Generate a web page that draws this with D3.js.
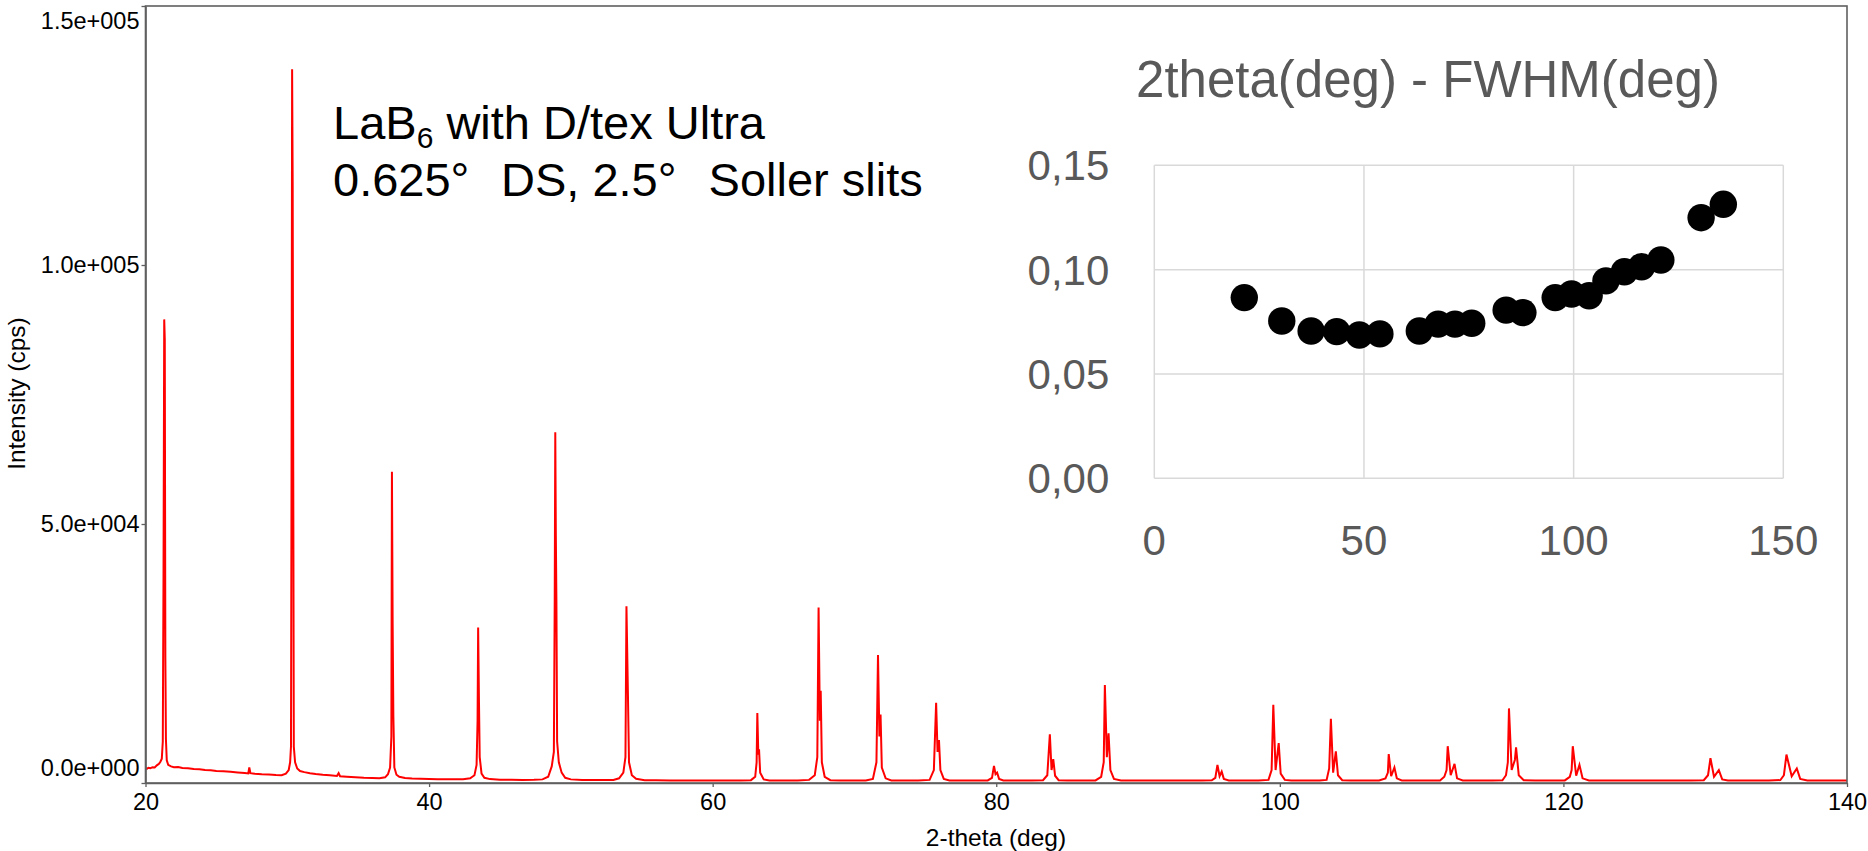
<!DOCTYPE html>
<html><head><meta charset="utf-8">
<script src="https://cdn.jsdelivr.net/npm/d3@7"></script>
<style>html,body{margin:0;padding:0;background:#fff;} svg{display:block;}</style>
</head><body>
<svg id="chart" width="1868" height="851"></svg>
<script>
// ---- Main XRD pattern: vertices [2-theta (deg), intensity (cps)] ----
const spectrum = [
 [20.00,2900],[20.10,2750],[20.20,2950],[20.35,2850],[20.50,3050],[20.65,3000],[20.80,3400],[20.95,3700],[21.05,4100],[21.15,4700],
 [21.22,8000],[21.27,40000],[21.32,89500],[21.36,85600],[21.40,24400],[21.44,8500],[21.50,4400],[21.60,3500],
 [21.80,3200],[22.0,3050],[22.3,3100],[22.6,2900],[23.0,2850],[23.4,2700],[23.8,2650],[24.2,2500],[24.6,2450],[25.0,2300],[25.5,2250],[26.0,2150],[26.5,2050],[27.0,1950],[27.25,1850],[27.32,3000],[27.40,1900],[27.7,1800],[28.2,1700],[28.7,1650],[29.2,1550],[29.6,1500],[29.9,1800],[30.1,2500],[30.2,4000],
 [30.26,7000],[30.30,60000],[30.34,137800],[30.38,116000],[30.42,60400],[30.46,7000],[30.55,4000],[30.7,2800],[30.9,2300],
 [31.2,2100],[31.6,1900],[32.0,1750],[32.5,1600],[33.0,1500],[33.5,1350],[33.62,1900],[33.72,1300],[34.2,1200],[34.8,1100],[35.4,1000],[36.0,950],[36.5,900],[36.9,1100],[37.1,1700],[37.25,3000],
 [37.34,9000],[37.38,60100],[37.43,30900],[37.48,13000],[37.55,3000],[37.7,1600],[37.9,1200],[38.3,950],[38.8,850],[39.4,800],[40.0,750],[40.6,720],[41.2,700],[41.8,700],[42.4,720],[42.9,900],[43.2,1500],[43.35,3500],
 [43.42,12000],[43.46,30000],[43.52,15400],[43.57,5000],[43.7,1800],[43.9,1000],[44.3,750],[45.0,650],[45.8,620],[46.6,600],[47.4,620],[48.0,700],[48.4,1200],[48.65,3200],[48.8,6000],
 [48.86,35000],[48.90,67700],[48.94,47700],[48.98,35000],[49.03,8000],[49.15,4000],[49.35,2000],[49.6,1000],[50.0,700],[50.8,600],[51.6,560],[52.4,560],[53.0,600],[53.4,900],[53.7,2000],
 [53.85,5000],[53.92,34100],[54.02,17800],[54.10,4000],[54.3,1500],[54.6,800],[55.2,550],[56.0,520],[57.0,500],[58.0,490],[59.0,480],[60.0,480],[61.0,470],[62.0,470],[62.7,550],[63.0,1200],
 [63.10,4000],[63.15,13500],[63.22,5500],[63.27,6500],[63.35,2000],[63.6,700],[64.0,480],[65.0,470],[66.0,480],[66.8,600],[67.2,1500],[67.38,5000],
 [67.47,33900],[67.56,12000],[67.62,17800],[67.70,4000],[67.9,1200],[68.3,550],[69.0,480],[70.0,470],[70.8,500],[71.3,800],[71.55,4000],
 [71.66,24700],[71.76,9000],[71.84,13200],[71.93,3000],[72.2,900],[72.6,500],[73.5,480],[74.5,470],[75.3,600],[75.6,2500],
 [75.76,15500],[75.86,6000],[75.96,8300],[76.06,2500],[76.3,800],[76.7,500],[77.5,480],[78.5,470],[79.4,500],[79.7,1000],[79.84,3300],[79.95,1700],[80.06,2000],[80.2,800],[80.5,500],[81.5,480],[82.5,470],[83.3,550],[83.6,1500],
 [83.78,9400],[83.9,2500],[84.02,4600],[84.15,1400],[84.4,550],[85.0,480],[86.0,470],[87.0,500],[87.4,1200],[87.58,4000],
 [87.66,18900],[87.80,5000],[87.92,9600],[88.05,2500],[88.3,800],[88.8,500],[90.0,480],[91.5,470],[93.0,470],[94.5,480],[95.2,520],[95.45,1000],[95.6,3500],[95.75,1300],[95.9,2200],[96.05,800],[96.4,500],[97.5,480],[98.5,480],[99.2,600],[99.42,2500],
 [99.54,15100],[99.70,2500],[99.92,7700],[100.06,1800],[100.35,600],[100.8,490],[101.8,480],[102.8,490],[103.3,600],[103.48,2800],[103.60,12400],[103.76,2000],[103.95,6100],[104.1,1500],[104.4,550],[105.0,490],[106.0,480],[107.0,500],[107.45,900],[107.62,2000],[107.68,5600],[107.85,1300],[108.08,3000],[108.25,900],[108.6,500],[109.5,490],[110.5,480],[111.3,500],[111.6,1200],[111.76,2500],[111.84,7100],[112.05,1500],[112.32,3700],[112.5,900],[112.9,500],[114.0,490],[115.0,480],[115.7,520],[115.95,1500],[116.08,4000],[116.16,14400],[116.35,2500],[116.58,4500],[116.66,6900],[116.85,1500],[117.2,520],[118.0,490],[119.0,480],[120.1,500],[120.45,1200],[120.58,2500],[120.66,7100],[120.9,1400],[121.13,3500],[121.35,900],[121.8,500],[123.0,490],[124.5,480],[126.0,480],[127.5,480],[129.0,490],[129.9,540],[130.2,1500],[130.37,4800],[130.62,1200],[130.96,2500],[131.2,700],[131.6,500],[132.5,490],[133.5,480],[134.5,490],[135.3,560],[135.55,1500],[135.73,5500],[136.1,1300],[136.46,2800],[136.7,800],[137.2,500],[138.0,490],[139.0,480],[140.0,490]
];
const xTickValues = [20, 40, 60, 80, 100, 120, 140];
const yTickValues = [0, 50000, 100000, 150000];
const yTickLabels = ["0.0e+000", "5.0e+004", "1.0e+005", "1.5e+005"];

// ---- Inset: 2theta vs FWHM ----
const insetAngles = [21.46, 30.4, 37.4, 43.5, 48.9, 53.8, 63.2, 67.7, 71.7, 75.7, 83.9, 87.9, 95.6, 99.5, 103.7, 107.7, 112.1, 116.2, 120.8, 130.4, 135.7];
const insetFwhm   = [0.0866, 0.0754, 0.0706, 0.0703, 0.0687, 0.0692, 0.0706, 0.0739, 0.0739, 0.0743, 0.0806, 0.0794, 0.0866, 0.0883, 0.0875, 0.0946, 0.0990, 0.1014, 0.1046, 0.1249, 0.1313];
const insetXTicks = [0, 50, 100, 150];
const insetYTicks = [0, 0.05, 0.10, 0.15];
const insetYLabels = ["0,00", "0,05", "0,10", "0,15"];

const FONT = "'Liberation Sans', Arial, Helvetica, sans-serif";
const svg = d3.select("#chart");
svg.append("rect").attr("width", 1868).attr("height", 851).attr("fill", "#fff");

// main scales
const x = d3.scaleLinear().domain([20, 140]).range([145.5, 1847]);
const y = d3.scaleLinear().domain([0, 150000]).range([783, 6]);

svg.append("clipPath").attr("id", "plotclip").append("rect")
  .attr("x", 145.5).attr("y", 6).attr("width", 1847 - 145.5).attr("height", 777);

svg.append("path").datum(spectrum)
  .attr("clip-path", "url(#plotclip)")
  .attr("fill", "none").attr("stroke", "#ff0000").attr("stroke-width", 2)
  .attr("stroke-linejoin", "miter")
  .attr("d", d3.line().x(d => x(d[0])).y(d => y(d[1])));

// frame
svg.append("rect").attr("x", 145.5).attr("y", 6).attr("width", 1847 - 145.5).attr("height", 777)
  .attr("fill", "none").attr("stroke", "#5f5f5f").attr("stroke-width", 1.6);

// axes
const gx = svg.append("g").attr("transform", "translate(0,783)")
  .call(d3.axisBottom(x).tickValues(xTickValues).tickFormat(d3.format("d")).tickSize(4).tickSizeOuter(0).tickPadding(6));
const gy = svg.append("g").attr("transform", "translate(145.5,0)")
  .call(d3.axisLeft(y).tickValues(yTickValues).tickFormat((d, i) => yTickLabels[i]).tickSize(4).tickSizeOuter(0).tickPadding(2));
[gx, gy].forEach(g => {
  g.attr("font-family", FONT).attr("font-size", 23.5);
  g.select(".domain").attr("stroke", "#5f5f5f").attr("stroke-width", 1.6);
  g.selectAll(".tick line").attr("stroke", "#5f5f5f").attr("stroke-width", 1.3);
  g.selectAll(".tick text").attr("fill", "#000");
});
gy.selectAll(".tick text").attr("y", d => d === 0 ? -15 : (d === 150000 ? 15 : 0));

// axis titles
svg.append("text").attr("x", 996).attr("y", 846).attr("text-anchor", "middle")
  .attr("font-family", FONT).attr("font-size", 24.5).attr("fill", "#000").text("2-theta (deg)");
svg.append("text").attr("transform", "translate(24.5,393.5) rotate(-90)").attr("text-anchor", "middle")
  .attr("font-family", FONT).attr("font-size", 24.5).attr("fill", "#000").text("Intensity (cps)");

// annotation
const ann1 = svg.append("text").attr("x", 333).attr("y", 139.3)
  .attr("font-family", FONT).attr("font-size", 47).attr("fill", "#000");
ann1.append("tspan").text("LaB");
ann1.append("tspan").attr("font-size", 30).attr("dy", 9).text("6");
ann1.append("tspan").attr("dy", -9).text(" with D/tex Ultra");
const ann2 = svg.append("text").attr("x", 333).attr("y", 196)
  .attr("font-family", FONT).attr("font-size", 47).attr("fill", "#000");
ann2.append("tspan").text("0.625°");
ann2.append("tspan").attr("dx", 31.6).text("DS, 2.5°");
ann2.append("tspan").attr("dx", 32).text("Soller slits");

// ---- inset ----
const ix = d3.scaleLinear().domain([0, 150]).range([1154.3, 1783.3]);
const iy = d3.scaleLinear().domain([0, 0.15]).range([478.3, 165.3]);
const inset = svg.append("g");
inset.selectAll("line.vg").data(insetXTicks).enter().append("line")
  .attr("x1", d => ix(d)).attr("x2", d => ix(d)).attr("y1", iy(0)).attr("y2", iy(0.15))
  .attr("stroke", "#d9d9d9").attr("stroke-width", 1.5);
inset.selectAll("line.hg").data(insetYTicks).enter().append("line")
  .attr("x1", ix(0)).attr("x2", ix(150)).attr("y1", d => iy(d)).attr("y2", d => iy(d))
  .attr("stroke", "#d9d9d9").attr("stroke-width", 1.5);
inset.selectAll("text.yl").data(insetYTicks).enter().append("text")
  .attr("x", 1109.3).attr("y", d => iy(d)).attr("dy", "0.355em").attr("text-anchor", "end")
  .attr("font-family", FONT).attr("font-size", 42).attr("fill", "#595959")
  .text((d, i) => insetYLabels[i]);
inset.selectAll("text.xl").data(insetXTicks).enter().append("text")
  .attr("x", d => ix(d)).attr("y", 540).attr("dy", "0.355em").attr("text-anchor", "middle")
  .attr("font-family", FONT).attr("font-size", 42).attr("fill", "#595959")
  .text(d => d);
inset.selectAll("circle").data(insetAngles.map((a, i) => [a, insetFwhm[i]])).enter().append("circle")
  .attr("cx", d => ix(d[0])).attr("cy", d => iy(d[1])).attr("r", 13.7).attr("fill", "#000");
svg.append("text").attr("x", 1428).attr("y", 97.3).attr("text-anchor", "middle")
  .attr("font-family", FONT).attr("font-size", 51).attr("fill", "#595959")
  .text("2theta(deg) - FWHM(deg)");
</script>
</body></html>
